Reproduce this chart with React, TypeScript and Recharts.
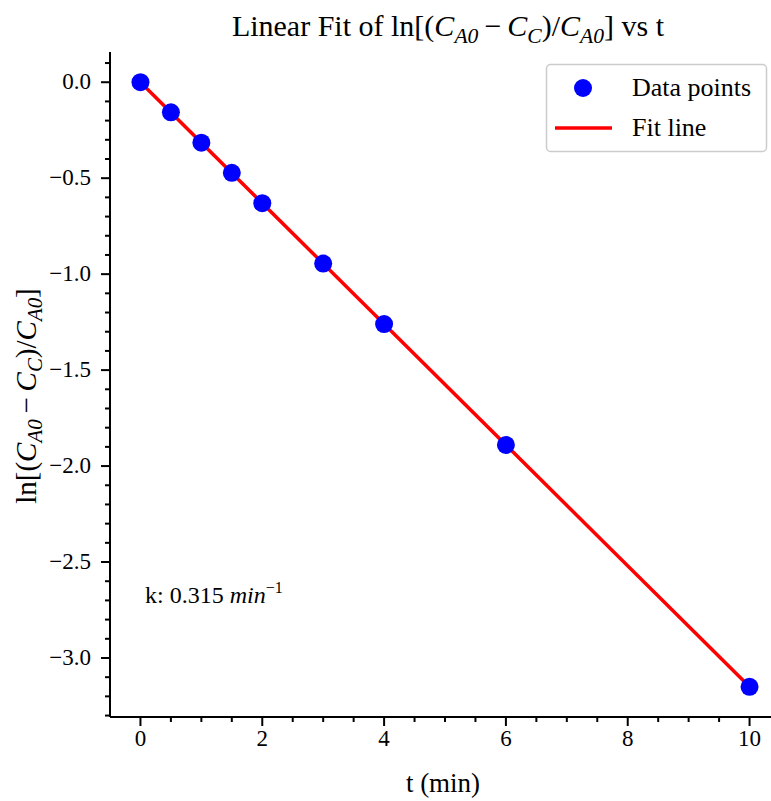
import React from 'react';
import {
  ComposedChart,
  Scatter,
  Line,
  XAxis,
  YAxis,
  Customized,
} from 'recharts';

// measured values (t in min, ln[(CA0-CC)/CA0])
const timeMin = [0, 0.5, 1, 1.5, 2, 3, 4, 6, 10];
const lnRatio = [0, -0.157, -0.315, -0.472, -0.63, -0.945, -1.26, -1.89, -3.15];
const fitT = [0, 10];
const fitY = [0, -3.15];
const kValue = '0.315';

const xMajor = [0, 2, 4, 6, 8, 10];
const xTicks = [0, 0.5, 1, 1.5, 2, 2.5, 3, 3.5, 4, 4.5, 5, 5.5, 6, 6.5, 7, 7.5, 8, 8.5, 9, 9.5, 10];
const yMajor = [0, -0.5, -1, -1.5, -2, -2.5, -3];
const yLabels = ['0.0', '-0.5', '-1.0', '-1.5', '-2.0', '-2.5', '-3.0'];
const yTicks: number[] = [];
for (let i = 1; i >= -33; i--) yTicks.push(i / 10);

const points = timeMin.map((t, i) => ({ t, y: lnRatio[i] }));
const fit = fitT.map((t, i) => ({ t, y: fitY[i] }));

const FONT = '"Liberation Serif", "DejaVu Serif", serif';

const isMajor = (v: number, list: number[]) => list.some((m) => Math.abs(m - v) < 1e-6);

const XTick = (props: any) => {
  const { x, y, payload } = props;
  const major = isMajor(payload.value, xMajor);
  return (
    <g>
      <line x1={x} x2={x} y1={y} y2={y + (major ? 9 : 5)} stroke="#000" strokeWidth={2} />
      {major && (
        <text x={x} y={y + 29} textAnchor="middle" fontSize={23} fontFamily={FONT} fill="#000">
          {payload.value}
        </text>
      )}
    </g>
  );
};

const YTick = (props: any) => {
  const { x, y, payload } = props;
  const idx = yMajor.findIndex((m) => Math.abs(m - payload.value) < 1e-6);
  const major = idx >= 0;
  return (
    <g>
      <line x1={x} x2={x - (major ? 9 : 5)} y1={y} y2={y} stroke="#000" strokeWidth={2} />
      {major && (
        <text x={x - 19} y={y + 7} textAnchor="end" fontSize={23} fontFamily={FONT} fill="#000">
          {yLabels[idx].replace('-', '\u2212')}
        </text>
      )}
    </g>
  );
};

// ln[(C_A0 - C_C)/C_A0]
const Expr = ({ size }: { size: number }) => {
  const sub = size * 0.72;
  const d = size * 0.22;
  return (
    <>
      <tspan>ln[(</tspan>
      <tspan fontStyle="italic">C</tspan>
      <tspan fontStyle="italic" fontSize={sub} dy={d}>A0</tspan>
      <tspan dy={-d}>{'\u2009\u2212\u2009'}</tspan>
      <tspan fontStyle="italic">C</tspan>
      <tspan fontStyle="italic" fontSize={sub} dy={d}>C</tspan>
      <tspan dy={-d}>)/</tspan>
      <tspan fontStyle="italic">C</tspan>
      <tspan fontStyle="italic" fontSize={sub} dy={d}>A0</tspan>
      <tspan dy={-d}>]</tspan>
    </>
  );
};

const Texts = () => (
  <g fontFamily={FONT} fill="#000">
    <text x={448} y={36} textAnchor="middle" fontSize={30}>
      <tspan>Linear Fit of </tspan>
      <Expr size={30} />
      <tspan> vs t</tspan>
    </text>
    <text x={443} y={792} textAnchor="middle" fontSize={27}>
      t (min)
    </text>
    <text transform="translate(36, 396) rotate(-90)" textAnchor="middle" fontSize={29}>
      <Expr size={29} />
    </text>
    <text x={145} y={603} fontSize={24}>
      <tspan>k: {kValue} </tspan>
      <tspan fontStyle="italic">min</tspan>
      <tspan fontSize={16} dy={-10}>{'\u2212'}1</tspan>
    </text>
    {/* legend */}
    <rect x={546.5} y={64.5} width={220} height={87} rx={4} fill="#fff" stroke="#cccccc" strokeWidth={1.5} />
    <circle cx={583} cy={88} r={9} fill="#0000ff" />
    <line x1={555} x2={612} y1={128} y2={128} stroke="#ff0000" strokeWidth={3.5} />
    <text x={632} y={96} fontSize={26}>Data points</text>
    <text x={632} y={136} fontSize={26}>Fit line</text>
  </g>
);

export default function App() {
  return (
    <div style={{ position: 'absolute', left: 0, top: 0, width: 771, height: 801, overflow: 'hidden', background: '#fff' }}>
      <ComposedChart width={781} height={801} margin={{ top: 52, right: 1, bottom: 0, left: 0 }}>
        <XAxis
          type="number"
          dataKey="t"
          domain={[-0.5, 10.5]}
          ticks={xTicks}
          interval={0}
          allowDataOverflow
          axisLine={{ stroke: '#000', strokeWidth: 2 }}
          tickLine={false}
          tickSize={0}
          tickMargin={0}
          tick={<XTick />}
          height={84}
        />
        <YAxis
          type="number"
          dataKey="y"
          domain={[-3.3075, 0.1575]}
          ticks={yTicks}
          interval={0}
          allowDataOverflow
          axisLine={{ stroke: '#000', strokeWidth: 2 }}
          tickLine={false}
          tickSize={0}
          tickMargin={0}
          tick={<YTick />}
          width={110}
        />
        <Scatter
          name="Data points"
          data={points}
          fill="#0000ff"
          isAnimationActive={false}
          shape={(p: any) => <circle cx={p.cx} cy={p.cy} r={9} fill="#0000ff" />}
        />
        <Line
          name="Fit line"
          data={fit}
          dataKey="y"
          stroke="#ff0000"
          strokeWidth={3.5}
          dot={false}
          activeDot={false}
          isAnimationActive={false}
        />
        <Customized component={<Texts />} />
      </ComposedChart>
    </div>
  );
}
